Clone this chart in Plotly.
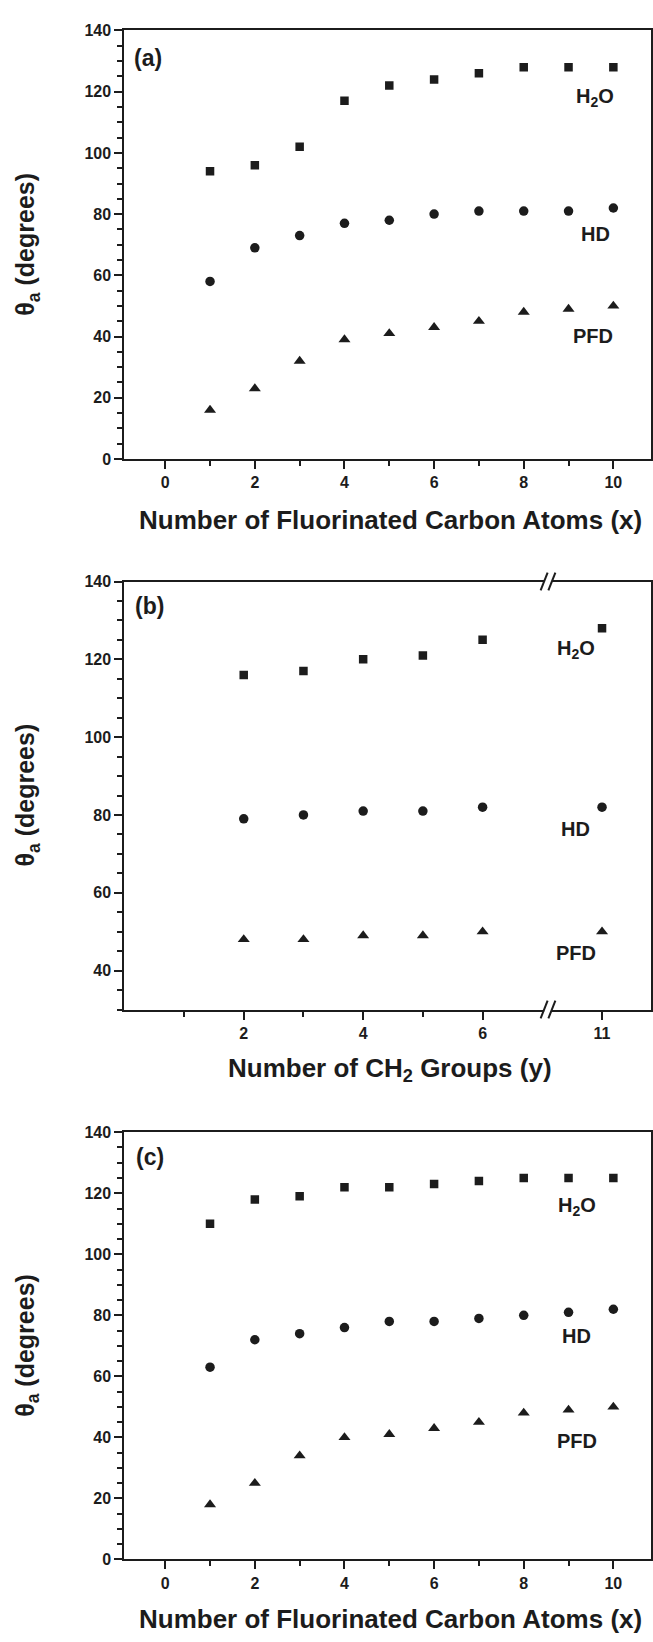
import plotly.graph_objects as go

# ---------------- data ----------------
carbons = [1, 2, 3, 4, 5, 6, 7, 8, 9, 10]
a_h2o = [94, 96, 102, 117, 122, 124, 126, 128, 128, 128]
a_hd = [58, 69, 73, 77, 78, 80, 81, 81, 81, 82]
a_pfd = [16, 23, 32, 39, 41, 43, 45, 48, 49, 50]

ch2_groups = [2, 3, 4, 5, 6, 11]
b_h2o = [116, 117, 120, 121, 125, 128]
b_hd = [79, 80, 81, 81, 82, 82]
b_pfd = [48, 48, 49, 49, 50, 50]

c_h2o = [110, 118, 119, 122, 122, 123, 124, 125, 125, 125]
c_hd = [63, 72, 74, 76, 78, 78, 79, 80, 81, 82]
c_pfd = [18, 25, 34, 40, 41, 43, 45, 48, 49, 50]

b_major_vals = [2, 4, 6, 11]
b_minor_vals = [1, 3, 5]

# broken axis for panel (b): values 7..10 are skipped
BREAK_LAST_SHOWN = 6
BREAK_SKIP = 3


def bpos(v):
    return v if v <= BREAK_LAST_SHOWN else v - BREAK_SKIP


W, H = 653, 1642
FONT = "Liberation Sans, Arial, Helvetica, sans-serif"
INK = "#1c1c1c"

xdom = [124.3 / W, 651.0 / W]
ydoms = [
    [1 - 455.7 / H, 1 - 22.7 / H],
    [1 - 1012.0 / H, 1 - 579.5 / H],
    [1 - 1567.7 / H, 1 - 1136.0 / H],
]
xr_ac = [-0.913, 10.84]
xr_b = [0.0, 8.82]

fig = go.Figure()

marker_styles = {
    "sq": dict(symbol="square", size=8.5, color=INK),
    "ci": dict(symbol="circle", size=9.5, color=INK),
    "tr": dict(symbol="triangle-up", size=10.5, color=INK),
}


def add_panel(xs, series, xa, ya):
    for vals, key in series:
        fig.add_trace(go.Scatter(x=xs, y=vals, mode="markers", marker=marker_styles[key],
                                 xaxis=xa, yaxis=ya, showlegend=False, hoverinfo="x+y"))


add_panel(carbons, [(a_h2o, "sq"), (a_hd, "ci"), (a_pfd, "tr")], "x", "y")
add_panel([bpos(v) for v in ch2_groups], [(b_h2o, "sq"), (b_hd, "ci"), (b_pfd, "tr")], "x2", "y2")
add_panel(carbons, [(c_h2o, "sq"), (c_hd, "ci"), (c_pfd, "tr")], "x3", "y3")

tickfont = dict(family=FONT, size=16, color=INK, weight="bold")
common_axis = dict(showgrid=False, zeroline=False, showline=True, linecolor=INK, linewidth=2,
                   mirror=True, ticks="outside", ticklen=8, tickwidth=2, tickcolor=INK,
                   tickfont=tickfont, fixedrange=True)

layout = dict(
    width=W, height=H, margin=dict(l=0, r=0, t=0, b=0),
    paper_bgcolor="white", plot_bgcolor="white", showlegend=False,
    font=dict(family=FONT, color=INK),
)

for i, (xn, yn) in enumerate([("xaxis", "yaxis"), ("xaxis2", "yaxis2"), ("xaxis3", "yaxis3")]):
    anchor_y = "y" if i == 0 else f"y{i+1}"
    anchor_x = "x" if i == 0 else f"x{i+1}"
    if i == 1:
        layout[xn] = dict(common_axis, domain=xdom, anchor=anchor_y, range=xr_b,
                          tickmode="array", tickvals=[bpos(v) for v in b_major_vals],
                          ticktext=[str(v) for v in b_major_vals],
                          minor=dict(tickmode="array", tickvals=b_minor_vals, ticks="outside",
                                     ticklen=5, tickwidth=2, tickcolor=INK))
        layout[yn] = dict(common_axis, domain=ydoms[i], anchor=anchor_x, range=[30, 140],
                          tick0=0, dtick=20,
                          minor=dict(tick0=0, dtick=5, ticks="outside", ticklen=5, tickwidth=2,
                                     tickcolor=INK))
    else:
        layout[xn] = dict(common_axis, domain=xdom, anchor=anchor_y, range=xr_ac,
                          tick0=0, dtick=2,
                          minor=dict(tick0=0, dtick=1, ticks="outside", ticklen=5, tickwidth=2,
                                     tickcolor=INK))
        layout[yn] = dict(common_axis, domain=ydoms[i], anchor=anchor_x, range=[0, 140],
                          tick0=0, dtick=20,
                          minor=dict(tick0=0, dtick=5, ticks="outside", ticklen=5, tickwidth=2,
                                     tickcolor=INK))

fig.update_layout(**layout)

# ---------- annotations ----------
ann = []
ytitle_font = dict(family=FONT, size=25, color=INK, weight="bold")
xtitle_font = dict(family=FONT, size=26, color=INK, weight="bold")
ycenters = [(d[0] + d[1]) / 2 for d in ydoms]
for yc in ycenters:
    ann.append(dict(text="θ<sub>a</sub> (degrees)", xref="paper", yref="paper", x=27 / W, y=yc,
                    xanchor="center", yanchor="middle", textangle=-90, showarrow=False,
                    font=ytitle_font))

xtitles = ["Number of Fluorinated Carbon Atoms (x)", "Number of CH<sub>2</sub> Groups (y)",
           "Number of Fluorinated Carbon Atoms (x)"]
xtitle_y = [517, 1073, 1628]
for t, py in zip(xtitles, xtitle_y):
    ann.append(dict(text=t, xref="paper", yref="paper", x=390 / W, y=1 - py / H,
                    xanchor="center", yanchor="middle", showarrow=False, font=xtitle_font))

label_font = dict(family=FONT, size=20, color=INK, weight="bold")
panel_font = dict(family=FONT, size=23, color=INK, weight="bold")

# panel letters
ann.append(dict(text="(a)", xref="x", yref="y", x=-0.74, y=131, xanchor="left", yanchor="middle",
                showarrow=False, font=panel_font))
ann.append(dict(text="(b)", xref="x2", yref="y2", x=0.14, y=133.8, xanchor="left", yanchor="middle",
                showarrow=False, font=panel_font))
ann.append(dict(text="(c)", xref="x3", yref="y3", x=-0.69, y=131.9, xanchor="left", yanchor="middle",
                showarrow=False, font=panel_font))

# series labels
series_labels = [
    ("x", "y", [(9.6, 118.2, "H<sub>2</sub>O"), (9.6, 73.4, "HD"), (9.55, 40.2, "PFD")]),
    ("x2", "y2", [(7.56, 122.6, "H<sub>2</sub>O"), (7.56, 76.5, "HD"), (7.56, 44.5, "PFD")]),
    ("x3", "y3", [(9.19, 115.8, "H<sub>2</sub>O"), (9.17, 73.2, "HD"), (9.18, 38.8, "PFD")]),
]
for xr, yr, items in series_labels:
    for xv, yv, t in items:
        ann.append(dict(text=t, xref=xr, yref=yr, x=xv, y=yv, xanchor="center", yanchor="middle",
                        showarrow=False, font=label_font))

fig.update_layout(annotations=ann)

# ---------- axis-break marks on panel (b) ----------
def bx_paper(v):
    return xdom[0] + (v - xr_b[0]) / (xr_b[1] - xr_b[0]) * (xdom[1] - xdom[0])


shapes = []
brk_left, brk_right = 7.03, 7.16
dxp = 3.5 / W
dyp = 9.0 / H
for yline in ydoms[1]:
    xl, xr2 = bx_paper(brk_left), bx_paper(brk_right)
    shapes.append(dict(type="rect", xref="paper", yref="paper", x0=xl, x1=xr2,
                       y0=yline - 2.5 / H, y1=yline + 2.5 / H, fillcolor="white",
                       line=dict(width=0), layer="above"))
    for xc in (xl, xr2):
        shapes.append(dict(type="line", xref="paper", yref="paper", x0=xc - dxp, y0=yline - dyp,
                           x1=xc + dxp, y1=yline + dyp, line=dict(color=INK, width=2),
                           layer="above"))
fig.update_layout(shapes=shapes)

fig.write_html("out.html", config={"displayModeBar": False})
